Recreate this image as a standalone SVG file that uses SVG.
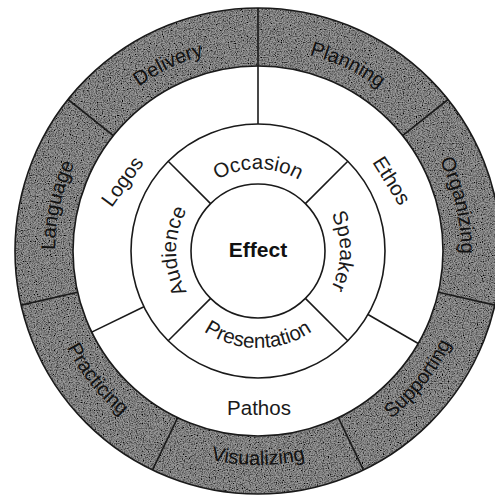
<svg xmlns="http://www.w3.org/2000/svg" width="495" height="496" viewBox="0 0 495 496">
<style>
  .ln { stroke: #1a1a1a; stroke-width: 1.6; fill: none; }
  .lbl { font-family: "Liberation Sans", Arial, sans-serif; font-size: 20.5px; fill: #1a1a1a; }
  .out { font-family: "Liberation Sans", Arial, sans-serif; font-size: 20px; fill: #111; }
  .ctr { font-family: "Liberation Sans", Arial, sans-serif; font-size: 21px; font-weight: bold; fill: #111; }
</style>
<defs>
  <filter id="grain" x="0" y="0" width="100%" height="100%">
    <feTurbulence type="fractalNoise" baseFrequency="0.85" numOctaves="2" seed="7" result="n"/>
    <feColorMatrix in="n" type="matrix" values="0 0 0 0 0  0 0 0 0 0  0 0 0 0 0  0 0 0 -2.2 1.45" result="dark"/>
    <feComposite in="dark" in2="SourceGraphic" operator="in" result="d2"/>
    <feMerge><feMergeNode in="SourceGraphic"/><feMergeNode in="d2"/></feMerge>
  </filter>
  <path id="pOcc" d="M187,210 A82,82 0 0,1 329,210"/>
  <path id="pSpk" d="M299,180 A82,82 0 0,1 299,322"/>
  <path id="pAud" d="M217,322 A82,82 0 0,1 217,180"/>
  <path id="pPre" d="M174,299.5 A97,97 0 0,0 342,299.5"/>
  <path id="pDel" d="M61.3,200.9 A203,203 0 0,1 341.5,66"/>
  <path id="pPla" d="M174.5,66 A203,203 0 0,1 454.7,200.9"/>
  <path id="pOrg" d="M350.6,70.4 A203,203 0 0,1 419.9,373.5"/>
  <path id="pLan" d="M96.1,373.5 A203,203 0 0,1 165.4,70.4"/>
  <path id="pSup" d="M263.3,464.9 A214,214 0 0,0 467.8,208.6"/>
  <path id="pVis" d="M94.1,388.6 A214,214 0 0,0 421.9,388.6"/>
  <path id="pPra" d="M48.2,208.6 A214,214 0 0,0 252.7,464.9"/>
</defs>
<rect width="495" height="496" fill="#ffffff"/>

<!-- rings -->
<g id="rings">
  <path d="M15,251 a243,243 0 1,0 486,0 a243,243 0 1,0 -486,0 Z M73,251 a185,185 0 1,0 370,0 a185,185 0 1,0 -370,0 Z" fill="#9a9a9a" fill-rule="evenodd" filter="url(#grain)"/>
  <circle cx="258" cy="251" r="243" class="ln"/>
  <circle cx="258" cy="251" r="185" class="ln"/>
  <circle cx="258" cy="251" r="127" class="ln"/>
  <circle cx="258" cy="251" r="67" class="ln"/>
</g>

<!-- dividers -->
<g id="connectors">
  <line x1="305.4" y1="203.6" x2="347.8" y2="161.2" class="ln"/>
  <line x1="210.6" y1="203.6" x2="168.2" y2="161.2" class="ln"/>
  <line x1="210.6" y1="298.4" x2="168.2" y2="340.8" class="ln"/>
  <line x1="305.4" y1="298.4" x2="347.8" y2="340.8" class="ln"/>
  <line x1="258" y1="124" x2="258" y2="66" class="ln"/>
  <line x1="143.9" y1="306.7" x2="91.7" y2="332.1" class="ln"/>
  <line x1="368" y1="314.5" x2="418.2" y2="343.5" class="ln"/>
  <line x1="258" y1="66" x2="258" y2="8" class="ln"/>
  <line x1="402.6" y1="135.7" x2="448" y2="99.5" class="ln"/>
  <line x1="438.4" y1="292.2" x2="494.9" y2="305.1" class="ln"/>
  <line x1="338.3" y1="417.7" x2="363.4" y2="469.9" class="ln"/>
  <line x1="177.7" y1="417.7" x2="152.6" y2="469.9" class="ln"/>
  <line x1="77.6" y1="292.2" x2="21.1" y2="305.1" class="ln"/>
  <line x1="113.4" y1="135.7" x2="68" y2="99.5" class="ln"/>
</g>

<g id="effect"><text x="258" y="257" text-anchor="middle" class="ctr">Effect</text></g>
<g id="occasion"><text class="lbl" text-anchor="middle"><textPath href="#pOcc" startOffset="50%">Occasion</textPath></text></g>
<g id="speaker"><text class="lbl" text-anchor="middle"><textPath href="#pSpk" startOffset="50%">Speaker</textPath></text></g>
<g id="audience"><text class="lbl" text-anchor="middle"><textPath href="#pAud" startOffset="50%">Audience</textPath></text></g>
<g id="presentation"><text class="lbl" text-anchor="middle"><textPath href="#pPre" startOffset="50%">Presentation</textPath></text></g>

<g id="logos"><text class="lbl" text-anchor="middle" transform="translate(123,182) rotate(-54)" y="6">Logos</text></g>
<g id="ethos"><text class="lbl" text-anchor="middle" transform="translate(391,181) rotate(58)" y="6">Ethos</text></g>
<g id="pathos"><text class="lbl" x="259" y="415" text-anchor="middle">Pathos</text></g>

<g id="delivery"><text class="out" text-anchor="middle"><textPath href="#pDel" startOffset="50%">Delivery</textPath></text></g>
<g id="planning"><text class="out" text-anchor="middle"><textPath href="#pPla" startOffset="50%">Planning</textPath></text></g>
<g id="organizing"><text class="out" text-anchor="middle"><textPath href="#pOrg" startOffset="50%">Organizing</textPath></text></g>
<g id="supporting"><text class="out" text-anchor="middle"><textPath href="#pSup" startOffset="50%">Supporting</textPath></text></g>
<g id="visualizing"><text class="out" text-anchor="middle"><textPath href="#pVis" startOffset="50%">Visualizing</textPath></text></g>
<g id="practicing"><text class="out" text-anchor="middle"><textPath href="#pPra" startOffset="50%">Practicing</textPath></text></g>
<g id="language"><text class="out" text-anchor="middle"><textPath href="#pLan" startOffset="50%">Language</textPath></text></g>
</svg>
